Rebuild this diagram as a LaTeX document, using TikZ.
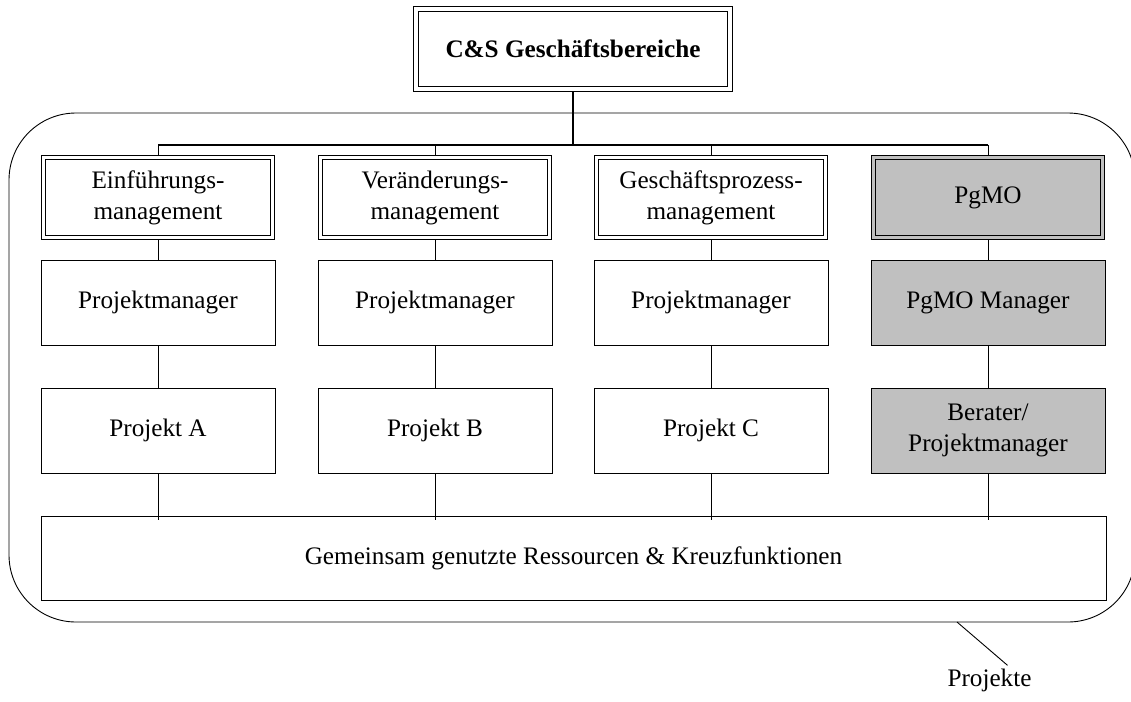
\documentclass[tikz,border=0pt]{standalone}
\usepackage{fontspec}
\setmainfont{Liberation Serif}
\usetikzlibrary{backgrounds}
\definecolor{pgmogray}{HTML}{C0C0C0}
\begin{document}
\begin{tikzpicture}[x=1pt,y=-1pt,
  every node/.style={font=\fontsize{25.2}{31}\selectfont, align=center, inner sep=0pt},
  unitbox/.style={draw, line width=0.9pt, double, double distance=3pt,
    minimum width=229pt, minimum height=80pt},
  plainbox/.style={draw, line width=0.9pt, minimum width=234pt, minimum height=85pt},
  office/.style={fill=pgmogray, double=pgmogray},
  grayfill/.style={fill=pgmogray},
  link/.style={line width=0.9pt}]
\useasboundingbox (0,0) rectangle (1131,701);

% project frame
\draw[line width=0.9pt, rounded corners=67pt] (9,113) rectangle (1135,622);

% head of the business areas
\node[draw, line width=1pt, double, double distance=3.5pt,
  minimum width=314pt, minimum height=80pt, font=\fontsize{25.2}{31}\selectfont\bfseries]
  (head) at (573,49) {C\&S Geschäftsbereiche};
\coordinate (bus) at (573,145);

% business units
\node[unitbox] (u1) at (158,197.5) {Einführungs-\\management};
\node[unitbox] (u2) at (435,197.5) {Veränderungs-\\management};
\node[unitbox] (u3) at (711,197.5) {Geschäftsprozess-\\management};
\node[unitbox, office] (u4) at (988,197.5) {PgMO};

% managers
\node[plainbox] (m1) at (158,302.5) {Projektmanager};
\node[plainbox] (m2) at (435,302.5) {Projektmanager};
\node[plainbox] (m3) at (711,302.5) {Projektmanager};
\node[plainbox, grayfill] (m4) at (988,302.5) {PgMO Manager};

% projects
\node[plainbox] (r1) at (158,430.5) {Projekt A};
\node[plainbox] (r2) at (435,430.5) {Projekt B};
\node[plainbox] (r3) at (711,430.5) {Projekt C};
\node[plainbox, grayfill] (r4) at (988,430.5) {Berater/\\Projektmanager};

% shared resources
\node[draw, line width=0.9pt, minimum width=1065pt, minimum height=84pt]
  (shared) at (573.5,558) {Gemeinsam genutzte Ressourcen \& Kreuzfunktionen};

% label of the frame
\node[anchor=base] (plabel) at (989.5,686) {Projekte};
\coordinate (lead) at (957,622);
\draw[line width=0.9pt] (lead) -- ([xshift=18pt,yshift=3pt]plabel.north);

\begin{scope}[on background layer]
  \draw[line width=2pt] (head.south) -- (bus);
  \draw[line width=1.4pt] (u1.north |- bus) -- (u4.north |- bus);
  \foreach \i in {1,2,3,4}{
    \draw[link] (u\i.north |- bus) -- (u\i.north);
    \draw[link] (u\i.south) -- (m\i.north);
    \draw[link] (m\i.south) -- (r\i.north);
    \draw[link] (r\i.south) -- ([yshift=-4pt]r\i.south |- shared.north);
  }
\end{scope}
\end{tikzpicture}
\end{document}
